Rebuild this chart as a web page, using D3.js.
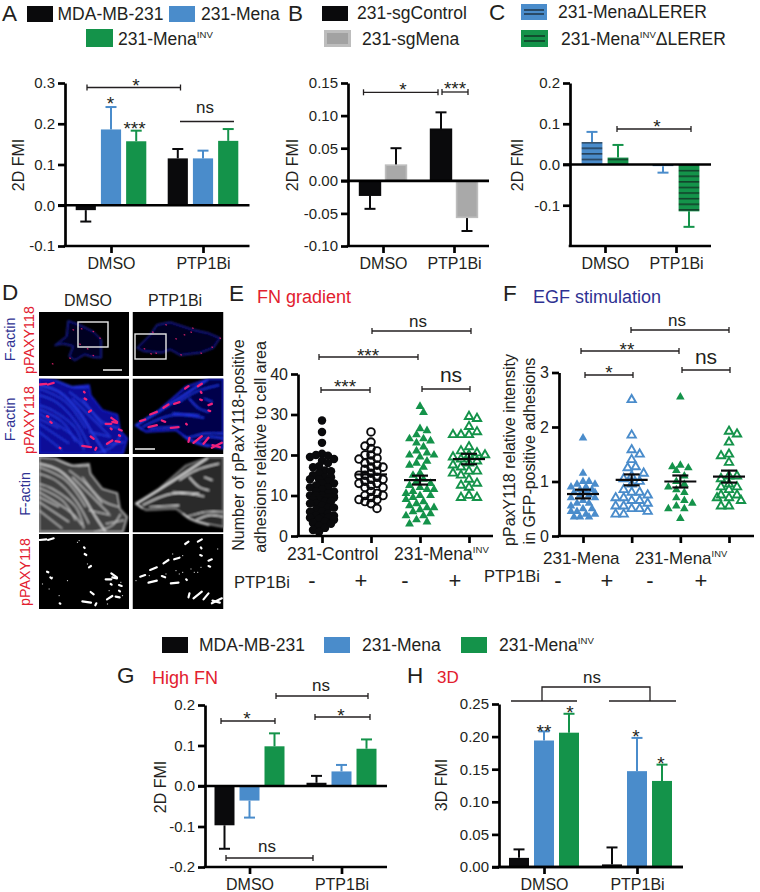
<!DOCTYPE html>
<html><head><meta charset="utf-8">
<script src="https://cdn.jsdelivr.net/npm/d3@7/dist/d3.min.js"></script>
<style>html,body{margin:0;padding:0;background:#fff}svg{display:block}text{font-family:"Liberation Sans",Arial,sans-serif;fill:#231f20}</style>
</head><body><svg id="c" width="760" height="892"></svg>
<script>
// ---------- data ----------
const groups = ["DMSO","PTP1Bi"];
const seriesThree = ["MDA-MB-231","231-Mena","231-MenaINV"];
const seriesB = ["231-sgControl","231-sgMena"];
const seriesC = ["231-MenaΔLERER","231-MenaINVΔLERER"];
const valuesA = [-0.012,0.186,0.157,0.115,0.115,0.158];
const errorsA = [0.028,0.055,0.026,0.023,0.019,0.029];
const valuesB = [-0.022,0.024,0.079,-0.056];
const errorsB = [0.021,0.026,0.026,0.021];
const valuesC = [0.055,0.017,-0.004,-0.115];
const errorsC = [0.025,0.031,0.016,0.038];
const valuesG = [-0.097,-0.036,0.098,0.008,0.036,0.092];
const errorsG = [0.058,0.042,0.032,0.017,0.016,0.023];
const valuesH = [0.014,0.194,0.206,0.004,0.147,0.132];
const errorsH = [0.013,0.014,0.029,0.026,0.051,0.025];
const ticksA = [-0.1,0,0.1,0.2,0.3];
const ticksB = [-0.10,-0.05,0,0.05,0.10,0.15];
const ticksC = [-0.1,0,0.1,0.2];
const ticksG = [-0.2,-0.1,0,0.1,0.2];
const ticksH = [0,0.05,0.10,0.15,0.20,0.25];
const ticksE = [0,10,20,30,40];
const ticksF = [0,1,2,3];
const categoriesE = ["Control-","Control+","INV-","INV+"];
const pointsE1 = [28.5,25.7,23,20.3,20,19.8,19.5,19,18.6,18,17.2,17,16.2,16,15.5,15,14.5,14.5,14,14,13.5,13,13,12.5,12,12,11.5,11,11,10.5,10,10,10,9.5,9.5,9,9,8.5,8.5,8,8,7.5,7,7,6.5,6,6,5.5,5,5,4.6,4.5,4.5,4.2,4,3.5,3.2,3,2.5,2,1.5,1];
const pointsE2 = [25.7,23.2,22.2,21.6,21,20,20,19.2,19,18.5,18,17.5,17,17,16.5,16,15.5,15,15,14.5,14,14,13.5,13,13,12.5,12,12,11,10.5,10,10,9.5,9,9,8.5,8,6.8];
const pointsE3 = [32,30.5,26.5,26,25,24,24,23.5,23,22,21,20.5,20,20,19.5,18.5,18,17.5,17,15.5,15,14,13.5,13,12.5,12,11.5,11.5,11,10.5,10,10,9.5,9,8.5,8,7.5,7,7,6.5,6,5.5,5,5,4,3.5,3];
const pointsE4 = [29.5,29,27,25.7,25,25,25,22,21,20.5,20,20,19.5,19,18.5,18,17.5,17,16,16,15.5,15,14,13,12.5,12,10,9.5,9.5];
const meansE = [10,15.2,13.8,19];
const semsE = [0.6,0.7,1.1,1.3];
const categoriesF = ["Mena-","Mena+","INV-","INV+"];
const pointsF1 = [1.8,1.15,1.0,1.0,0.95,0.95,0.9,0.9,0.85,0.85,0.8,0.8,0.8,0.75,0.75,0.7,0.7,0.65,0.6,0.6,0.55,0.5,0.5,0.45,0.45,0.4,0.4,0.35,0.35,0.35];
const pointsF2 = [2.5,1.85,1.58,1.5,1.4,1.27,1.25,1.15,1.1,1.05,1.0,0.95,0.85,0.8,0.8,0.75,0.7,0.7,0.65,0.65,0.6,0.55,0.55,0.5,0.5,0.45,0.4,0.4];
const pointsF3 = [2.55,1.3,1.27,1.25,1.2,1.1,1.0,0.95,0.9,0.85,0.8,0.7,0.65,0.6,0.55,0.5,0.5,0.32];
const pointsF4 = [1.92,1.87,1.72,1.5,1.47,1.35,1.1,1.1,1.05,0.95,0.9,0.9,0.85,0.75,0.75,0.7,0.7,0.65,0.55,0.55];
const meansF = [0.77,1.03,1.0,1.09];
const semsF = [0.08,0.1,0.11,0.11];

// ---------- style ----------
const BLACK="#0a0a0c", BLUE="#4a8ccb", GREEN="#14934a", GREY="#a9a9a9", RED="#e2202e", NAVY="#2e3192", INK="#231f20";
const svg=d3.select("#c");
const defs=svg.append("defs");
function hatch(id,col){const p=defs.append("pattern").attr("id",id).attr("patternUnits","userSpaceOnUse").attr("width",8).attr("height",5.6);
  p.append("rect").attr("width",8).attr("height",5.6).attr("fill",col);
  p.append("rect").attr("y",2.2).attr("width",8).attr("height",1).attr("fill","#101418");}
hatch("hB",BLUE);hatch("hG",GREEN);
defs.append("filter").attr("id","soft").attr("x","-10%").attr("y","-10%").attr("width","120%").attr("height","120%")
  .append("feGaussianBlur").attr("stdDeviation",3);
defs.append("filter").attr("id","soft2").attr("x","-20%").attr("y","-20%").attr("width","140%").attr("height","140%")
  .append("feGaussianBlur").attr("stdDeviation",1.4);

function T(x,y,s,size,opt={}){const t=svg.append("text").attr("x",x).attr("y",y).attr("font-size",size).text(s);
  if(opt.anchor)t.attr("text-anchor",opt.anchor);if(opt.fill)t.style("fill",opt.fill);
  if(opt.rot)t.attr("transform",`rotate(-90 ${x} ${y})`);return t;}
function INV(x,y,tail,size,opt={}){
  const t=svg.append("text").attr("x",x).attr("y",y).attr("font-size",size);
  t.append("tspan").text("231-Mena");
  t.append("tspan").attr("dy",-size*0.42).attr("font-size",size*0.55).text("INV");
  if(tail)t.append("tspan").attr("dy",size*0.42).text(tail);
  return t;}
function stars(x,cy,s,size=19){T(x,cy+size*0.58,s,size,{anchor:"middle"});}
function ns(x,cy,size=17){T(x,cy+size*0.27,"ns",size,{anchor:"middle"});}
function bracket(x1,x2,y,caps=true){const g=svg.append("g").attr("stroke",INK).attr("stroke-width",1.3).attr("fill","none");
  g.append("line").attr("x1",x1).attr("x2",x2).attr("y1",y).attr("y2",y);
  if(caps){[x1,x2].forEach(x=>g.append("line").attr("x1",x).attr("x2",x).attr("y1",y-3).attr("y2",y+3));}}
function swatch(x,y,w,h,fill){svg.append("rect").attr("x",x).attr("y",y).attr("width",w).attr("height",h).attr("fill",fill);}

function axes(opt){
  const {y,xAxis,end,ticks,fmt,xTick,labelsBaselinePad=4.6,tickFont=15,xFont=16,showLabels=true}=opt;
  const a=svg.append("g").attr("transform",`translate(${xAxis},0)`).call(d3.axisLeft(y).tickValues(ticks).tickFormat(d3.format(fmt)).tickSize(7).tickSizeOuter(0).tickPadding(3));
  a.selectAll("path,line").attr("stroke","#000").attr("stroke-width",2.7);
  a.selectAll("text").attr("font-size",tickFont).attr("font-family",null).style("fill",INK);
  a.selectAll("text").text(function(){return this.textContent.replace("−","-");});
  const bottom=y.range()[0];
  const b=svg.append("g").attr("transform",`translate(0,${bottom})`).call(d3.axisBottom(xTick).tickSize(7).tickSizeOuter(0).tickPadding(labelsBaselinePad).tickFormat(showLabels?(d=>d):(()=>"")));
  b.select(".domain").remove();
  b.selectAll("line").attr("stroke","#000").attr("stroke-width",2.7);
  b.selectAll("text").attr("font-size",xFont).style("fill",INK);
  svg.append("line").attr("x1",xAxis-1.3).attr("x2",end).attr("y1",bottom).attr("y2",bottom).attr("stroke","#000").attr("stroke-width",2.7);
}
function barPanel(o){
  const y=d3.scaleLinear().domain(o.dom).range(o.rng);
  const gx=d3.scalePoint().domain(groups).range(o.centers);
  const sx=d3.scaleBand().domain(o.series).range([-o.half,o.half]).paddingInner(0.2);
  const rows=[];groups.forEach((g,i)=>o.series.forEach((s,j)=>rows.push({g,s,j,v:o.values[i*o.series.length+j],e:o.errors[i*o.series.length+j]})));
  const m=svg.append("g");
  m.selectAll("line.err").data(rows).join("line").attr("class","err")
    .attr("x1",d=>gx(d.g)+sx(d.s)+sx.bandwidth()/2).attr("x2",d=>gx(d.g)+sx(d.s)+sx.bandwidth()/2)
    .attr("y1",d=>y(d.v)).attr("y2",d=>y(d.v+Math.sign(d.v)*d.e)).attr("stroke",d=>o.colors[d.j]).attr("stroke-width",2);
  m.selectAll("line.cap").data(rows).join("line").attr("class","cap")
    .attr("x1",d=>gx(d.g)+sx(d.s)+sx.bandwidth()/2-5.5).attr("x2",d=>gx(d.g)+sx(d.s)+sx.bandwidth()/2+5.5)
    .attr("y1",d=>y(d.v+Math.sign(d.v)*d.e)).attr("y2",d=>y(d.v+Math.sign(d.v)*d.e)).attr("stroke",d=>o.colors[d.j]).attr("stroke-width",2);
  m.selectAll("rect").data(rows).join("rect")
    .attr("x",d=>gx(d.g)+sx(d.s)).attr("width",sx.bandwidth())
    .attr("y",d=>Math.min(y(d.v),y(0))).attr("height",d=>Math.abs(y(d.v)-y(0)))
    .attr("fill",d=>(o.fills||o.colors)[d.j])
    .attr("stroke",d=>o.edges?o.edges[d.j]:"none").attr("stroke-width",1.6);
  axes({y,xAxis:o.xAxis,end:o.end,ticks:o.ticks,fmt:o.fmt,xTick:gx});
  svg.append("line").attr("x1",o.xAxis-7).attr("x2",o.end).attr("y1",y(0)).attr("y2",y(0)).attr("stroke","#000").attr("stroke-width",2.7);
}
function swarm(vals,y,minDist,step,maxW){
  const placed=[];
  const offs=[0];for(let k=step;k<=maxW;k+=step){offs.push(k,-k);}
  [...vals].sort((a,b)=>b-a).forEach((v,i)=>{
    const py=y(v),flip=i%2?1:-1;let best=0,bestD=-1,off=null;
    for(const c0 of offs){const c=c0*flip;
      const dist=placed.length?d3.min(placed,p=>Math.hypot(p.dx-c,p.py-py)):99;
      if(dist>=minDist){off=c;break;}
      if(dist>bestD){bestD=dist;best=c;}
    }
    placed.push({dx:off===null?best:off,py,v});
  });
  return placed;
}
function scatterPanel(o){
  const y=d3.scaleLinear().domain(o.dom).range(o.rng);
  const x=d3.scalePoint().domain(o.cats).range(o.xr);
  o.sets.forEach((vals,i)=>{
    const st=o.styles[i];
    const sym=d3.symbol().type(st.type).size(st.size);
    const pts=swarm(vals,y,st.md,st.stp,st.maxW);
    svg.append("g").selectAll("path").data(pts).join("path").attr("d",sym)
      .attr("transform",d=>`translate(${x(o.cats[i])+d.dx},${d.py})`)
      .attr("fill",st.open?"none":st.color).attr("stroke",st.open?st.color:"none").attr("stroke-width",st.open?1.9:0);
    const cx=x(o.cats[i]),m=svg.append("g").attr("stroke",BLACK).attr("stroke-width",2.2);
    m.append("line").attr("x1",cx-16).attr("x2",cx+16).attr("y1",y(o.means[i])).attr("y2",y(o.means[i]));
    if(o.showSem[i]){[1,-1].forEach(s=>m.append("line").attr("x1",cx-8).attr("x2",cx+8).attr("y1",y(o.means[i]+s*o.sems[i])).attr("y2",y(o.means[i]+s*o.sems[i])));
      m.append("line").attr("x1",cx).attr("x2",cx).attr("y1",y(o.means[i]-o.sems[i])).attr("y2",y(o.means[i]+o.sems[i]));}
  });
  axes({y,xAxis:o.xAxis,end:o.end,ticks:o.ticks,fmt:"d",xTick:x,showLabels:false,tickFont:16});
}

// ---------- panel letters and legends ----------
[["A",2,21],["B",288,21],["C",489,20],["D",2,300],["E",229,301],["F",503,301],["G",117,683],["H",407,683]].forEach(d=>T(d[1],d[2],d[0],22.5));
swatch(27,6,26,16,BLACK);T(57.5,19.5,"MDA-MB-231",17.5);swatch(169,6,26,16,BLUE);T(201,19.5,"231-Mena",17.5);
swatch(86,29,27,18,GREEN);INV(118,45,"",17.5);
swatch(322,6,26,15,BLACK);T(357,19,"231-sgControl",17.5);
swatch(324,30,27,17,"#bdbdbd");swatch(327,33,21,11,"#a2a2a2");T(362,45,"231-sgMena",17.5);
swatch(521,4,26,16,BLUE);swatch(521,30,27,17,GREEN);
[[521,547,10],[521,547,14],[521,548,36],[521,548,41]].forEach(d=>svg.append("line").attr("x1",d[0]+3).attr("x2",d[1]-3).attr("y1",d[2]).attr("y2",d[2]).attr("stroke","#101418").attr("stroke-width",1.1));
T(558,17.5,"231-MenaΔLERER",17.5);INV(561,45,"ΔLERER",17.5);
swatch(162,637,26,16,BLACK);T(199,651,"MDA-MB-231",17.5);swatch(324,637,26,16,BLUE);T(362,651,"231-Mena",17.5);swatch(461,637,26,16,GREEN);INV(499,651,"",17.5);
T(257,303,"FN gradient",18,{fill:RED});T(533,303,"EGF stimulation",18,{fill:NAVY});T(152,684,"High FN",18,{fill:RED});T(437,683,"3D",17,{fill:RED});

// ---------- bar panels ----------
barPanel({dom:[-0.1,0.3],rng:[246,83],centers:[111,203],half:35.3,series:seriesThree,values:valuesA,errors:errorsA,colors:[BLACK,BLUE,GREEN],xAxis:65,end:249.5,ticks:ticksA,fmt:".1f"});
barPanel({dom:[-0.1,0.15],rng:[246,83],centers:[383,454],half:23.4,series:seriesB,values:valuesB,errors:errorsB,colors:[BLACK,BLACK],fills:[BLACK,GREY],edges:[BLACK,"#bdbdbd"],xAxis:348,end:489,ticks:ticksB,fmt:".2f"});
barPanel({dom:[-0.2,0.2],rng:[246,83],centers:[605,676],half:23.4,series:seriesC,values:valuesC,errors:errorsC,colors:[BLUE,GREEN],fills:["url(#hB)","url(#hG)"],xAxis:570,end:711,ticks:ticksC,fmt:".1f"});
barPanel({dom:[-0.2,0.2],rng:[867,705],centers:[249.5,341.5],half:35,series:seriesThree,values:valuesG,errors:errorsG,colors:[BLACK,BLUE,GREEN],xAxis:205,end:387,ticks:ticksG,fmt:".1f"});
barPanel({dom:[0,0.25],rng:[867,704],centers:[544,637],half:35,series:seriesThree,values:valuesH,errors:errorsH,colors:[BLACK,BLUE,GREEN],xAxis:499,end:683,ticks:ticksH,fmt:".2f"});
T(24,165,"2D FMI",16,{anchor:"middle",rot:1});T(298,165,"2D FMI",16,{anchor:"middle",rot:1});T(523,165,"2D FMI",16,{anchor:"middle",rot:1});
T(166,787,"2D FMI",16,{anchor:"middle",rot:1});T(447,785,"3D FMI",16,{anchor:"middle",rot:1});

// annotations
bracket(87,180.5,87.5);stars(136,81,"*",19);stars(110.5,99,"*",19);stars(134.5,124,"***",19);bracket(180,234,121.5,false);ns(205,108);
bracket(363.5,438,92.3);stars(403,85,"*");bracket(442,468,92);stars(455,84,"***");
bracket(617,691,129);stars(657,122,"*");
bracket(372,471,331);ns(418,322);bracket(319,418,357);stars(368,351,"***");bracket(321,370,390);stars(345,382,"***");bracket(422,470,389);ns(451,376,21);
bracket(631,729,330);ns(677,321);bracket(581,679,351);stars(627,345,"**");bracket(585,633,375);stars(609,368,"*");bracket(682,730,370);ns(706,358,21);
bracket(276,368,696);ns(321,686);bracket(221,275,721);stars(247,714,"*");bracket(315,370,717);stars(341,711,"*");bracket(226,313,858);ns(267,847);
bracket(511,577,701,false);bracket(609,676,701,false);
svg.append("path").attr("d",d3.line()([[542,701],[542,687],[650,687],[650,701]])).attr("fill","none").attr("stroke",INK).attr("stroke-width",1.3);
ns(592,678);stars(544,727,"**");stars(570,708,"*");stars(636,732,"*");stars(661,759,"*");

// ---------- scatter panels ----------
const C=d3.symbolCircle,Tr=d3.symbolTriangle;
scatterPanel({dom:[0,40],rng:[536,374],cats:categoriesE,xr:[322,469],sets:[pointsE1,pointsE2,pointsE3,pointsE4],means:meansE,sems:semsE,
  showSem:[false,false,true,true],
  styles:[{type:C,size:56,color:BLACK,md:6,stp:3,maxW:13},{type:C,size:46,color:BLACK,open:true,md:6,stp:3,maxW:13},{type:Tr,size:34,color:GREEN,md:7,stp:3.5,maxW:15},{type:Tr,size:30,color:GREEN,open:true,md:8,stp:4,maxW:16}],xAxis:298,end:493,ticks:ticksE});
scatterPanel({dom:[0,3],rng:[536,372.5],cats:categoriesF,xr:[583,729],sets:[pointsF1,pointsF2,pointsF3,pointsF4],means:meansF,sems:semsF,
  showSem:[true,true,true,true],
  styles:[{type:Tr,size:32,color:BLUE,md:6,stp:3,maxW:14},{type:Tr,size:30,color:BLUE,open:true,md:8,stp:4,maxW:16},{type:Tr,size:32,color:GREEN,md:8,stp:4,maxW:14},{type:Tr,size:30,color:GREEN,open:true,md:8,stp:4,maxW:14}],xAxis:559,end:754,ticks:ticksF});
T(244,445,"Number of pPaxY118-positive",16,{anchor:"middle",rot:1});T(266,447,"adhesions relative to cell area",16,{anchor:"middle",rot:1});
T(515,450,"pPaxY118 relative intensity",16,{anchor:"middle",rot:1});T(535,451,"in GFP-positive adhesions",16,{anchor:"middle",rot:1});
T(287,560,"231-Control",17.5);INV(394,560,"",17.5);T(543,564,"231-Mena",17);INV(635,564,"",17);
T(234,588,"PTP1Bi",16.5);T(484,582,"PTP1Bi",16.5);
[[312,"-"],[361,"+"],[405,"-"],[455,"+"],[558,"-"],[607,"+"],[650,"-"],[701,"+"]].forEach(d=>T(d[0],588,d[1],22,{anchor:"middle"}));

// ---------- panel D micrographs (hand-traced tile sketches, local units are 1/3 px) ----------
const tiles={left:{x:39,w:90},right:{x:132.5,w:91}},rowsD=[[312,64],[378.5,75.5],[457,75.5],[534,75]];
const cellRow1L=[[87,26],[122,38],[162,58],[187,83],[187,138],[162,136],[137,128],[107,146],[90,133],[102,103],[72,96],[47,100],[82,73]];
const cellRow1R=[[13,108],[53,68],[73,38],[113,30],[183,53],[228,63],[263,78],[243,108],[203,123],[143,130],[113,113],[88,123],[33,118]];
const dotsRow1L=[[127,50],[102,53],[162,58],[122,96],[92,138],[162,130],[182,78],[145,110],[40,155]];
const dotsRow1R=[[60,60],[100,38],[180,48],[130,80],[155,68],[55,125],[70,123],[35,110],[145,128],[205,123],[238,105],[262,78],[175,60]];
const cellL=[[0,0],[50,5],[100,25],[150,20],[155,50],[190,95],[235,108],[243,155],[265,180],[252,225],[0,225]];
const cellR=[[10,140],[80,95],[160,25],[230,0],[273,0],[273,210],[220,200],[170,185],[130,155],[40,160]];
const streaksL=[[[0,20],[60,40],[120,100],[170,180],[200,225]],[[0,50],[50,70],[110,130],[150,200]],[[0,80],[40,95],[110,150],[135,215]],[[0,105],[100,170],[130,205]],[[0,135],[90,195]],[[0,160],[70,215]],[[100,60],[160,120],[210,170]],[[165,225],[220,205],[245,170]],[[50,5],[100,25],[150,25]],[[130,60],[190,130],[240,150]],[[0,30],[80,70],[140,150]],[[0,92],[70,130],[110,190]],[[0,120],[60,150]],[[90,40],[140,80],[190,140]],[[200,200],[255,190]],[[150,160],[215,175]]];
const streaksR=[[[10,140],[100,85],[225,3]],[[30,145],[120,110],[215,118]],[[50,150],[140,145]],[[160,180],[220,165],[273,165]],[[190,190],[230,175],[273,180]],[[170,60],[200,90],[230,100]],[[10,140],[30,155]],[[140,70],[190,40],[260,20]],[[150,170],[180,190],[230,205]],[[120,105],[200,110]],[[215,60],[240,70]]];
const blobsL=[[2,18,22,16],[27,18,44,13],[137,60,142,63],[150,100,156,96],[217,118,234,130],[220,130,234,133],[200,136,217,136],[240,153,248,156],[155,174,164,181],[204,196,220,186],[230,188,242,190],[130,202,156,206],[172,208,169,214],[62,208,64,209],[24,113,28,115],[34,130,38,133],[240,170,243,172],[135,40,137,42],[215,150,218,152]];
const blobsR=[[23,128,38,123],[53,108,73,100],[93,88,108,78],[125,76,141,71],[158,30,168,23],[196,23,208,16],[48,146,73,140],[88,126,98,130],[115,148,138,146],[168,190,171,178],[183,193,208,173],[213,196,228,178],[238,208,268,193],[205,40,207,43],[203,63,208,65],[228,80,238,76],[228,96,233,98],[161,136,163,138],[240,200,262,206]];
const speckL=[[120,20],[115,25],[40,130],[30,165],[85,140],[205,210],[250,185],[10,150],[60,185],[145,90],[210,170],[245,145]];
const speckR=[[50,125],[100,120],[130,110],[150,115],[150,65],[175,105],[205,100],[10,140],[185,115],[255,45],[120,60],[140,120],[195,115]];
const line=d3.line().curve(d3.curveCatmullRom);
function tile(side,row,draw){
  const t=tiles[side],r=rowsD[row],id=`cl${side}${row}`;
  defs.append("clipPath").attr("id",id).append("rect").attr("x",t.x).attr("y",r[0]).attr("width",t.w).attr("height",r[1]);
  const g=svg.append("g").attr("clip-path",`url(#${id})`);
  g.append("rect").attr("x",t.x).attr("y",r[0]).attr("width",t.w).attr("height",r[1]).attr("fill","#000");
  const inner=g.append("g").attr("transform",`translate(${t.x},${r[0]}) scale(0.3333)`);
  draw(inner);
}
function blobs(g,list,color,sw){g.append("g").attr("filter","url(#soft2)").selectAll("line").data(list).join("line")
  .attr("x1",d=>d[0]).attr("y1",d=>d[1]).attr("x2",d=>d[2]).attr("y2",d=>d[3]).attr("stroke",color).attr("stroke-width",sw).attr("stroke-linecap","round");}
function specks(g,list,color){blobs(g,list.map(d=>[d[0],d[1],d[0]+1,d[1]]),color,2.6);}
function cellArt(g,poly,streaks,fill,streakCol,edgeCol,w){
  const f=g.append("g").attr("filter","url(#soft)");
  f.append("path").attr("d",d3.line()(poly)+"Z").attr("fill",fill).attr("stroke",edgeCol).attr("stroke-width",w+1);
  f.selectAll("path.s").data(streaks).join("path").attr("class","s").attr("d",line).attr("fill","none").attr("stroke",streakCol).attr("stroke-width",(d,i)=>i===0?w+2:w);
}
function row1(side,poly,dots){tile(side,0,g=>{
  const f=g.append("g").attr("filter","url(#soft)");
  f.append("path").attr("d",d3.line()(poly)+"Z").attr("fill","#040422").attr("stroke","#2228b8").attr("stroke-width",3);
  blobs(g,dots.map(d=>[d[0],d[1],d[0]+2,d[1]+1]),"#e0206a",3.5);
});}
row1("left",cellRow1L,dotsRow1L);row1("right",cellRow1R,dotsRow1R);
tile("left",1,g=>{cellArt(g,cellL,streaksL,"#0a0e98","#2a40e8","#1a22d8",3.5);blobs(g,blobsL,"#f0207a",7);});
tile("right",1,g=>{cellArt(g,cellR,streaksR,"#04064c","#2238f0","#1a22d8",4);blobs(g,blobsR,"#f0207a",7);});
tile("left",2,g=>{cellArt(g,cellL,streaksL,"#404040","#d4d4d4","#bbbbbb",3.2);});
tile("right",2,g=>{cellArt(g,cellR,streaksR,"#2a2a2a","#e8e8e8","#8a8a8a",3.6);});
tile("left",3,g=>{blobs(g,blobsL,"#ffffff",6.5);specks(g,speckL,"#ffffff");});
tile("right",3,g=>{blobs(g,blobsR,"#ffffff",6.5);specks(g,speckR,"#ffffff");});
[[78,322,30,25],[135,334,31,25]].forEach(b=>svg.append("rect").attr("x",b[0]).attr("y",b[1]).attr("width",b[2]).attr("height",b[3]).attr("fill","none").attr("stroke","#e8e8e8").attr("stroke-width",1.4));
[[103,122,370],[135,155,449]].forEach(b=>svg.append("line").attr("x1",b[0]).attr("x2",b[1]).attr("y1",b[2]).attr("y2",b[2]).attr("stroke","#e8e8e8").attr("stroke-width",1.6));
T(88,306,"DMSO",16,{anchor:"middle"});T(175,306,"PTP1Bi",16,{anchor:"middle"});
const sideLab=[[15,339.5,"F-actin",NAVY],[34,340,"pPAXY118",RED],[15,419.5,"F-actin",NAVY],[34,420,"pPAXY118",RED],[30,494,"F-actin",NAVY],[30,572,"pPAXY118",RED]];
sideLab.forEach(d=>T(d[0],d[1],d[2],14.3,{anchor:"middle",rot:1,fill:d[3]}));
</script></body></html>
